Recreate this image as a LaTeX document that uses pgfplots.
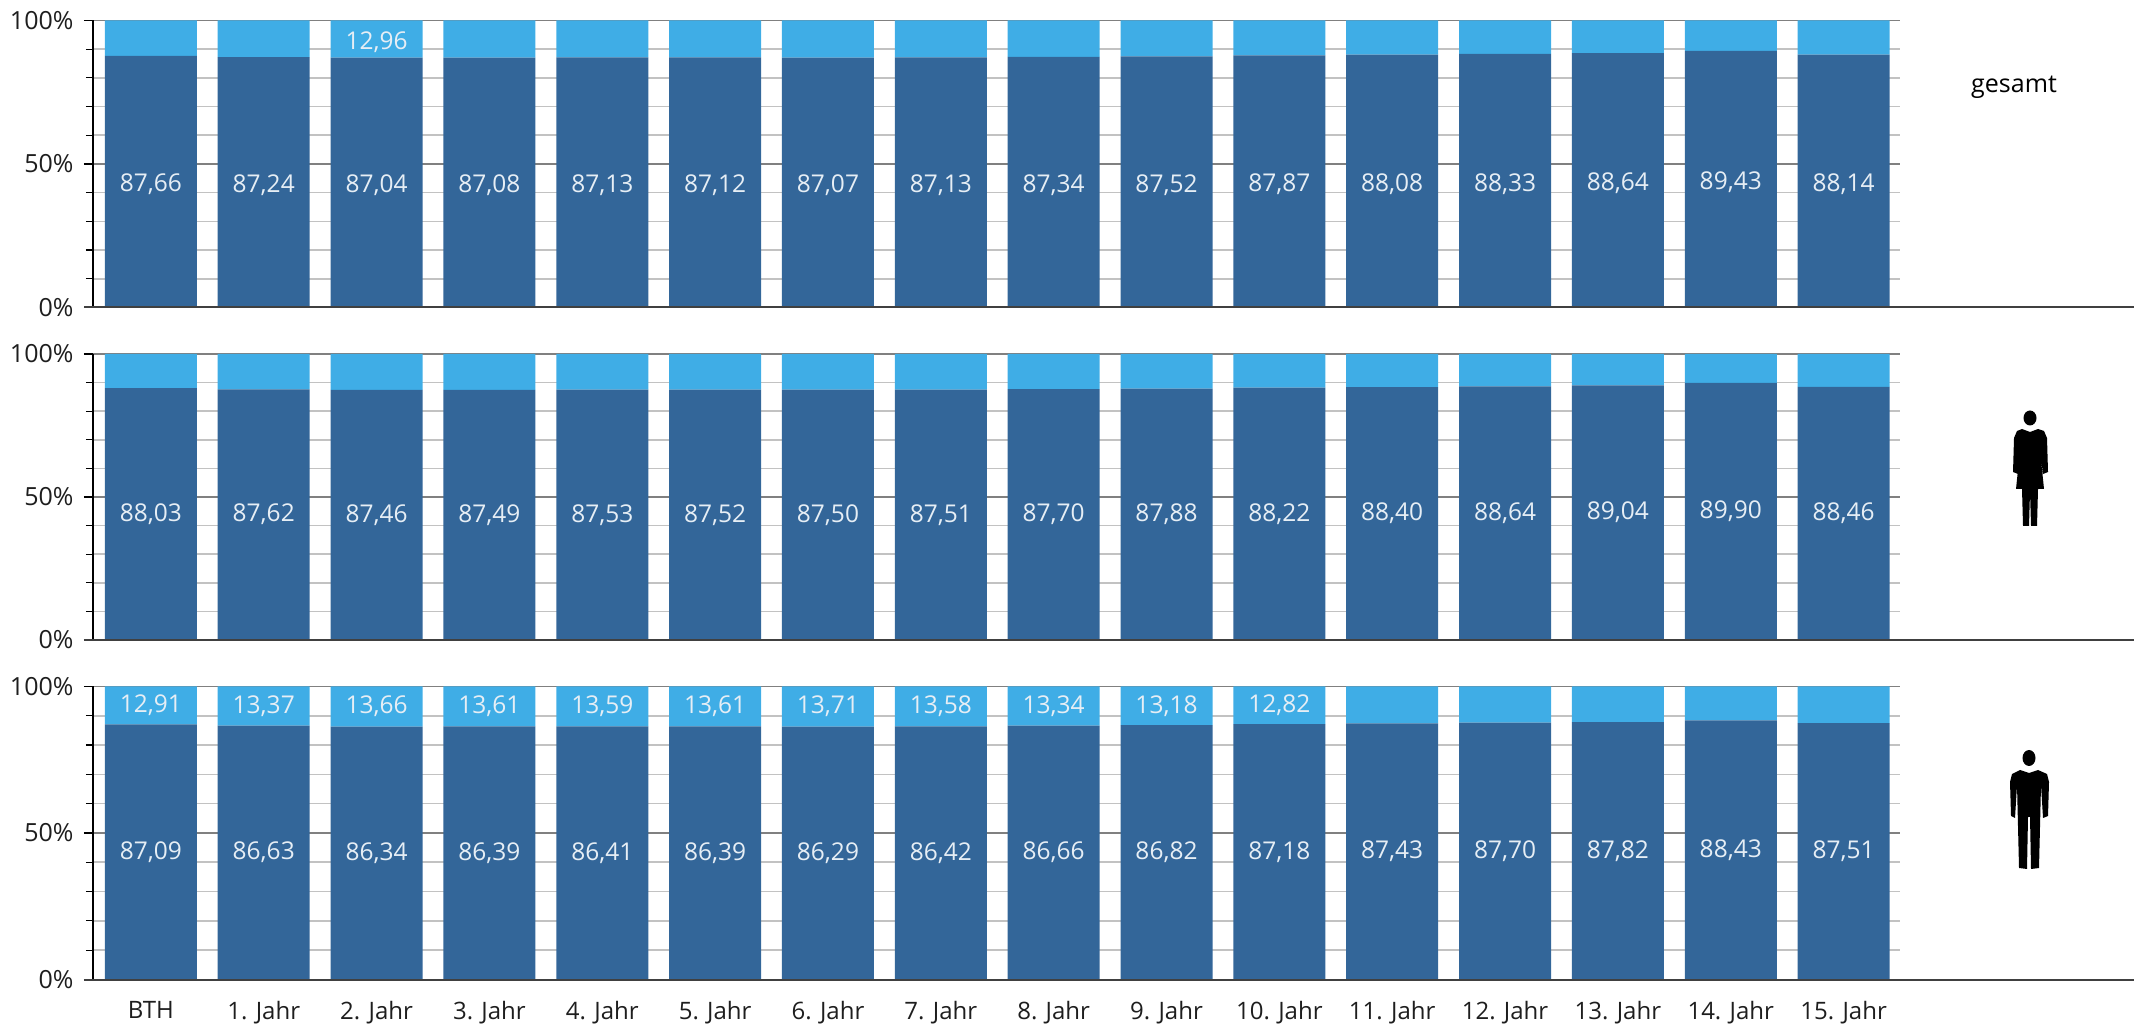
\documentclass[border=0pt]{standalone}
\usepackage{pgfplots}
\usepackage{pgfplotstable}
\usepackage{fontspec}
\setmainfont{Open Sans}
\pgfplotsset{compat=1.18}
\definecolor{dk}{HTML}{336699}
\definecolor{lt}{HTML}{3FADE6}
\definecolor{lab}{HTML}{E6EEF5}
\definecolor{txt}{HTML}{1E1E1E}
\pgfplotstableread{
x dark light dlab llab
0 87.66 12.34 87,66 {}
1 87.24 12.76 87,24 {}
2 87.04 12.96 87,04 12,96
3 87.08 12.92 87,08 {}
4 87.13 12.87 87,13 {}
5 87.12 12.88 87,12 {}
6 87.07 12.93 87,07 {}
7 87.13 12.87 87,13 {}
8 87.34 12.66 87,34 {}
9 87.52 12.48 87,52 {}
10 87.87 12.13 87,87 {}
11 88.08 11.92 88,08 {}
12 88.33 11.67 88,33 {}
13 88.64 11.36 88,64 {}
14 89.43 10.57 89,43 {}
15 88.14 11.86 88,14 {}
}\tabgesamt
\pgfplotstableread{
x dark light dlab llab
0 88.03 11.97 88,03 {}
1 87.62 12.38 87,62 {}
2 87.46 12.54 87,46 {}
3 87.49 12.51 87,49 {}
4 87.53 12.47 87,53 {}
5 87.52 12.48 87,52 {}
6 87.50 12.50 87,50 {}
7 87.51 12.49 87,51 {}
8 87.70 12.30 87,70 {}
9 87.88 12.12 87,88 {}
10 88.22 11.78 88,22 {}
11 88.40 11.60 88,40 {}
12 88.64 11.36 88,64 {}
13 89.04 10.96 89,04 {}
14 89.90 10.10 89,90 {}
15 88.46 11.54 88,46 {}
}\tabfrau
\pgfplotstableread{
x dark light dlab llab
0 87.09 12.91 87,09 12,91
1 86.63 13.37 86,63 13,37
2 86.34 13.66 86,34 13,66
3 86.39 13.61 86,39 13,61
4 86.41 13.59 86,41 13,59
5 86.39 13.61 86,39 13,61
6 86.29 13.71 86,29 13,71
7 86.42 13.58 86,42 13,58
8 86.66 13.34 86,66 13,34
9 86.82 13.18 86,82 13,18
10 87.18 12.82 87,18 12,82
11 87.43 12.57 87,43 {}
12 87.70 12.30 87,70 {}
13 87.82 12.18 87,82 {}
14 88.43 11.57 88,43 {}
15 87.51 12.49 87,51 {}
}\tabmann
\pgfplotsset{
  panel/.style={
    anchor=south west,
    scale only axis,
    width=1807pt,
    xmin=-0.513, xmax=15.5,
    ymin=0, ymax=100,
    ybar stacked,
    bar width=92pt,
    axis x line=bottom,
    axis y line=left,
    axis line style={-, black, line width=1.4pt},
    xtick={0,...,15},
    ytick={0,50,100},
    yticklabels={0\%,50\%,100\%},
    minor ytick={10,20,30,40,60,70,80,90},
    ymajorgrids, yminorgrids,
    major grid style={color=black!50, line width=1.4pt},
    minor grid style={color=black!24, line width=1.6pt},
    tick align=outside,
    major tick length=9pt,
    minor tick length=7pt,
    ytick style={black, line width=1.2pt},
    minor tick style={black, line width=1.2pt},
    xtick style={draw=none},
    xticklabels={},
    yticklabel style={font=\fontsize{25}{28}\selectfont, text=txt, xshift=-7pt},
    xticklabel style={font=\fontsize{24}{28}\selectfont, text=txt, yshift=-9pt},
    nodes near coords={\pgfplotspointmeta},
    point meta=explicit symbolic,
    every node near coord/.append style={
      anchor=center, text=lab, inner sep=0pt,
      font=\fontsize{24.5}{28}\selectfont},
  },
}
\begin{document}
\begin{tikzpicture}[x=1pt,y=1pt]
\path[use as bounding box] (0,0) rectangle (2134,1023);
% --- gesamt
\begin{axis}[panel, at={(93pt,715.5pt)}, height=287pt,
  every node near coord/.append style={yshift=-3pt}]
\addplot[fill=dk, draw=none] table[x=x,y=dark,meta=dlab] {\tabgesamt};
\addplot[fill=lt, draw=none] table[x=x,y=light,meta=llab] {\tabgesamt};
\end{axis}
% --- Frauen
\begin{axis}[panel, at={(93pt,383pt)}, height=286pt]
\addplot[fill=dk, draw=none] table[x=x,y=dark,meta=dlab] {\tabfrau};
\addplot[fill=lt, draw=none] table[x=x,y=light,meta=llab] {\tabfrau};
\end{axis}
% --- Maenner
\begin{axis}[panel, at={(93pt,43.5pt)}, height=293pt,
  xticklabels={BTH,1. Jahr,2. Jahr,3. Jahr,4. Jahr,5. Jahr,6. Jahr,7. Jahr,8. Jahr,9. Jahr,10. Jahr,11. Jahr,12. Jahr,13. Jahr,14. Jahr,15. Jahr}]
\addplot[fill=dk, draw=none] table[x=x,y=dark,meta=dlab] {\tabmann};
\addplot[fill=lt, draw=none] table[x=x,y=light,meta=llab] {\tabmann};
\end{axis}
% baselines extend to the right edge
\foreach \yy in {715.5,383,43.5}{
  \draw[black!75, line width=2pt] (84,\yy) -- (2134,\yy);
}
% label
\node[anchor=center, text=black, font=\fontsize{25}{28}\selectfont] at (2014,936) {gesamt};
% woman icon (pixel y -> 1023-y)
\begin{scope}[shift={(0,1023)}, y=-1pt]
\fill[black] (2030,418) ellipse (6.5 and 7.5);
\fill[black] (2022,429) -- (2030,432) -- (2038,429) -- (2044,431) -- (2047,438) -- (2048,472) -- (2043,474) -- (2040,450)
  -- (2044,489) -- (2038,489) -- (2037,526) -- (2031,526) -- (2030,492) -- (2029,526) -- (2023,526) -- (2022,489) -- (2016,489)
  -- (2020,450) -- (2018,474) -- (2013,472) -- (2014,438) -- (2017,431) -- cycle;
% man icon
\fill[black] (2029,758) ellipse (6.5 and 8);
\fill[black] (2020,770) -- (2029,773) -- (2038,770) -- (2047,774) -- (2049,782) -- (2048,816) -- (2043,818) -- (2041,785)
  -- (2039,868) -- (2031,869) -- (2030,817) -- (2028,817) -- (2027,869) -- (2019,868) -- (2017,785) -- (2015,818) -- (2011,816) -- (2010,782) -- (2012,774) -- cycle;
\end{scope}
\end{tikzpicture}
\end{document}
